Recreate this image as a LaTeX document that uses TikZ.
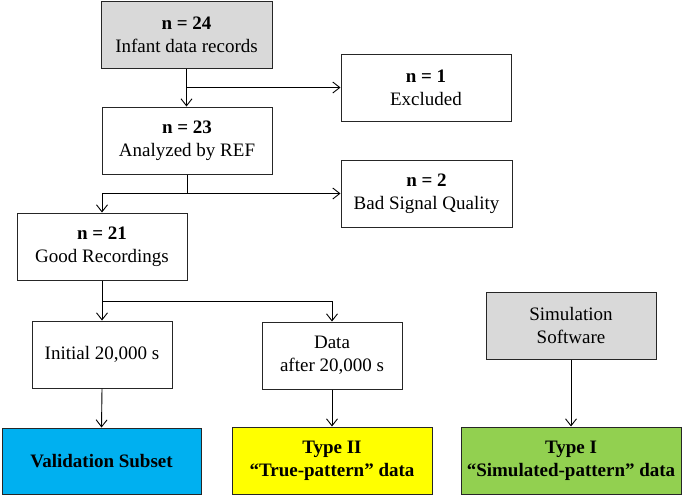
\documentclass[tikz,border=0pt]{standalone}
\usepackage{fontspec}
\setmainfont{Liberation Serif}
\usetikzlibrary{arrows.meta}

\definecolor{boxgray}{RGB}{217,217,217}
\definecolor{subsetblue}{RGB}{0,176,240}
\definecolor{truey}{RGB}{255,255,0}
\definecolor{simgreen}{RGB}{146,208,80}

\begin{document}
\begin{tikzpicture}[x=1pt,y=1pt,yscale=-1,xscale=1,
  box/.style={draw=black!85,line width=1pt,rectangle,align=center,inner sep=0pt,
    minimum height=67pt,font=\fontsize{19}{23}\selectfont},
  conn/.style={line width=0.9pt,-{Straight Barb[length=7pt,width=11pt,line width=0.9pt]}},
  wire/.style={line width=0.9pt}]
\useasboundingbox (0,0) rectangle (682,496);

%Shape: Rectangle -- records
\node[box,fill=boxgray,minimum width=171pt] (recs) at (186.5,34.5) {\textbf{n = 24}\\Infant data records};
%Shape: Rectangle -- analyzed
\node[box,minimum width=170pt] (anal) at (187,140.5) {\textbf{n = 23}\\Analyzed by REF};
%Shape: Rectangle -- excluded
\node[box,minimum width=170pt] (excl) at (426,87.5) {\textbf{n = 1}\\Excluded};
%Shape: Rectangle -- bad signal
\node[box,minimum width=171pt] (bads) at (426.5,193.5) {\textbf{n = 2}\\Bad Signal Quality};
%Shape: Rectangle -- good recordings
\node[box,minimum width=170pt] (good) at (102,246.5) {\textbf{n = 21}\\Good Recordings};
%Shape: Rectangle -- initial
\node[box,minimum width=140pt] (init) at (102,354.5) {Initial 20,000 s};
%Shape: Rectangle -- after
\node[box,minimum width=140pt] (aftr) at (332,355.5) {Data\\after 20,000 s};
%Shape: Rectangle -- simulation
\node[box,fill=boxgray,minimum width=170pt] (simu) at (571,325.5) {Simulation\\Software};
%Shape: Rectangle -- outputs
\node[box,fill=subsetblue,minimum width=199pt,minimum height=66pt] (vald) at (101.5,461) {\textbf{Validation Subset}};
\node[box,fill=truey,minimum width=200pt] (typ2) at (332,460.5) {\textbf{Type II}\\\textbf{“True-pattern” data}};
\node[box,fill=simgreen,minimum width=220pt] (typ1) at (571,460.5) {\textbf{Type I}\\\textbf{“Simulated-pattern” data}};

% branch points
\coordinate (j1) at (recs.south |- excl.west);
\coordinate (j2) at (anal.south |- bads.west);
\coordinate (j3) at ([yshift=21pt]good.south);

%Straight Lines
\draw[conn] (recs.south) -- (recs.south |- anal.north);
\draw[conn] (j1) -- (excl.west);
\draw[wire] (anal.south) -- (j2);
\draw[conn] (j2) -- (bads.west);
\draw[conn] (j2) -| (good.north);
\draw[conn] (good.south) -- (init.north);
\draw[conn] (j3) -| (aftr.north);
\draw[conn] (init.south) -- (vald.north);
\draw[conn] (aftr.south) -- (typ2.north);
\draw[conn] (simu.south) -- (typ1.north);

\end{tikzpicture}
\end{document}
